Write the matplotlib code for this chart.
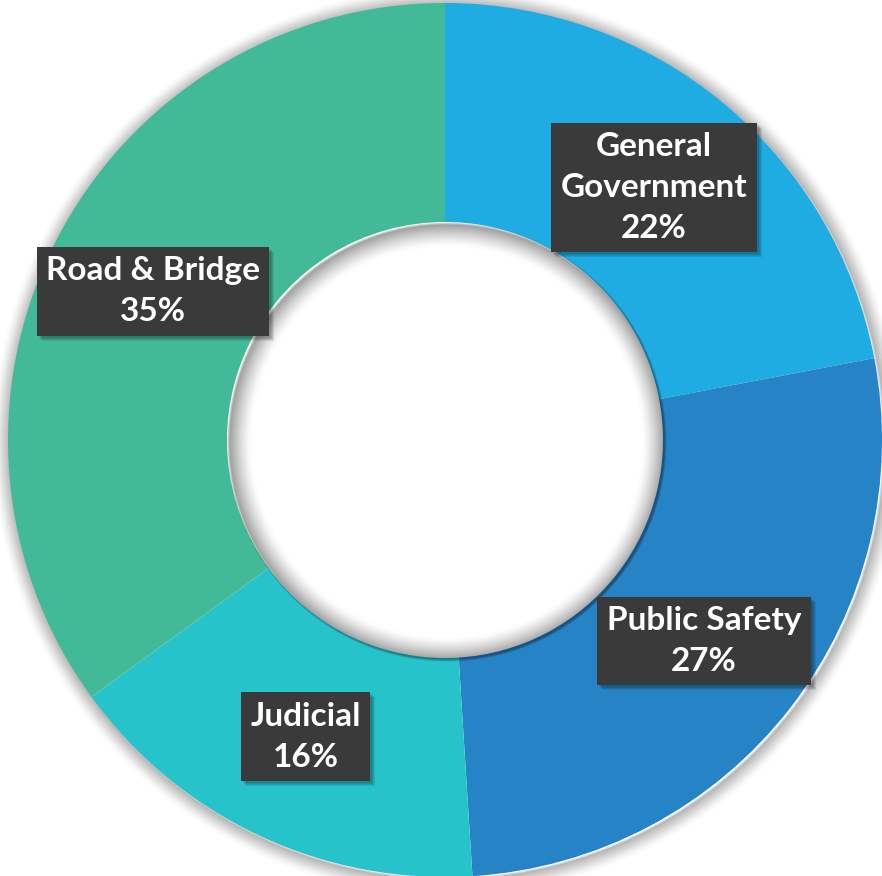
import numpy as np
import matplotlib.pyplot as plt
from matplotlib.patches import Circle, Rectangle

# data
categories = ['General\nGovernment', 'Public Safety', 'Judicial', 'Road & Bridge']
shares = [22, 27, 16, 35]
colors = ['#1EACE3', '#2683C6', '#27C3CB', '#42BA97']

plt.rcParams['hatch.color'] = '#666666'
plt.rcParams['hatch.linewidth'] = 1.0

W, H = 882, 876
fig = plt.figure(figsize=(W / 100, H / 100), dpi=100)
ax = fig.add_axes([0, 0, 1, 1])

cx, cy = 445, 436
r_out, r_in = 437, 218

# soft shadow outside the ring
for k in range(18):
    ax.add_patch(Circle((cx + 2, cy - 2), r_out + k, fc='none', ec='black',
                        lw=2, alpha=0.12 * (1 - k / 18) ** 1.5, zorder=0))

wedges, _ = ax.pie(shares, colors=colors, startangle=90, counterclock=False,
                   center=(cx, cy), radius=r_out,
                   wedgeprops=dict(width=r_out - r_in, linewidth=0))

# inner shadow of the hole
for k in range(24):
    ax.add_patch(Circle((cx + 2, cy - 2), r_in - k, fc='none', ec='black',
                        lw=2, alpha=0.16 * (1 - k / 24) ** 1.6, zorder=3))

# labels at 0.75 of the outer radius, on the middle angle of each slice
cum = np.cumsum([0] + shares)
total = sum(shares)
labels = []
for i, name in enumerate(categories):
    mid = 90 - (cum[i] + shares[i] / 2) / total * 360
    lx = cx + 0.75 * r_out * np.cos(np.radians(mid))
    ly = cy + 0.75 * r_out * np.sin(np.radians(mid))
    t = ax.text(lx, ly, f'{name}\n{shares[i]}%', ha='center', va='center',
                fontsize=24, family='Lato', weight='bold', color='white',
                linespacing=1.5,
                bbox=dict(boxstyle='square,pad=0.28', fc='#3A3A3A', ec='none',
                          hatch='...'), zorder=5)
    labels.append(t)

ax.set_xlim(0, W)
ax.set_ylim(0, H)
ax.set_aspect('equal')
ax.axis('off')

# drop shadow behind each label box
fig.canvas.draw()
inv = ax.transData.inverted()
for t in labels:
    bb = t.get_bbox_patch().get_window_extent()
    (x0, y0), (x1, y1) = inv.transform([[bb.x0, bb.y0], [bb.x1, bb.y1]])
    for k in range(4):
        ax.add_patch(Rectangle((x0 + 2 + k, y0 - 2 - k), x1 - x0, y1 - y0,
                               fc='black', ec='none', alpha=0.09, zorder=4))

fig.savefig('out.png', dpi=100, facecolor='white')
